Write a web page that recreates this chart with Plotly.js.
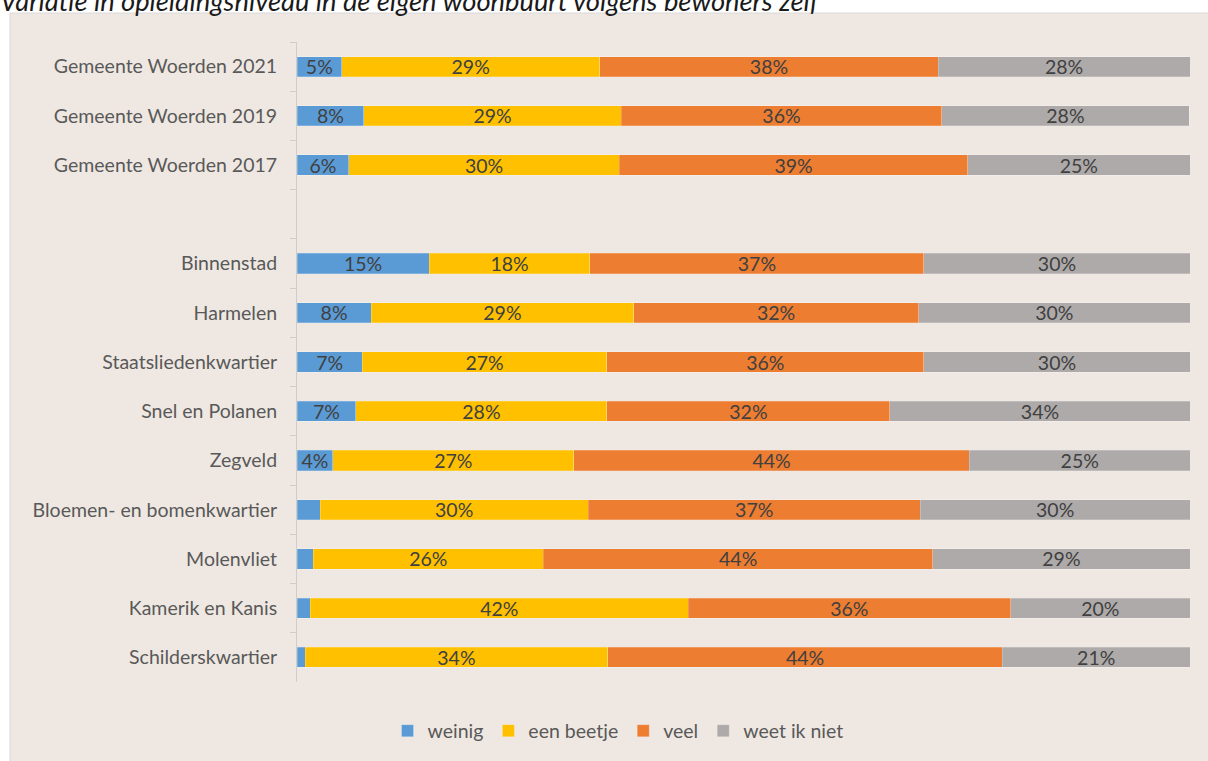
<!DOCTYPE html>
<html><head><meta charset="utf-8">
<script src="https://cdn.plot.ly/plotly-3.0.1.min.js"></script>
<style>html,body{margin:0;padding:0;background:#fff}#chart{width:1208px;height:761px}</style>
</head><body><div id="chart"></div>
<script>
const categories = ["Gemeente Woerden 2021","Gemeente Woerden 2019","Gemeente Woerden 2017"," ",
  "Binnenstad","Harmelen","Staatsliedenkwartier","Snel en Polanen","Zegveld",
  "Bloemen- en bomenkwartier","Molenvliet","Kamerik en Kanis","Schilderskwartier"];
const weinig    = [5.0, 7.5, 5.8, null, 14.8, 8.3, 7.3, 6.6, 4.0, 2.6, 1.8, 1.5, 0.9];
const eenBeetje = [28.9, 28.8, 30.3, null, 18.0, 29.4, 27.4, 28.1, 27.0, 30.0, 25.8, 42.3, 33.9];
const veel      = [37.9, 35.9, 39.0, null, 37.4, 31.9, 35.5, 31.7, 44.3, 37.2, 43.6, 36.1, 44.2];
const weetNiet  = [28.2, 27.7, 24.9, null, 29.8, 30.4, 29.8, 33.6, 24.7, 30.2, 28.8, 20.1, 21.0];
const seriesNames = ["weinig","een beetje","veel","weet ik niet"];
const colors = ["#5B9BD5","#FFC000","#ED7D31","#AEAAAA"];
const titleText = "Variatie in opleidingsniveau in de eigen woonbuurt volgens bewoners zelf";

const FONT = "Lato, 'Open Sans', sans-serif";
const FS = 19.5;
const lbl = v => (v == null || v < 3.5) ? "" : Math.round(v) + "%";
const data = [weinig, eenBeetje, veel, weetNiet].map((vals, i) => ({
  type: "bar", orientation: "h", name: seriesNames[i],
  y: categories, x: vals,
  text: vals.map(lbl), texttemplate: "%{text}",
  textposition: "inside", insidetextanchor: "middle", constraintext: "none",
  textfont: {family: FONT, size: FS, color: "#404040"},
  marker: {color: colors[i], line: {width: 0.6, color: "rgba(255,255,255,0.35)"}},
  hoverinfo: "x+y+name"
}));

const L = 297, R = 1190, T = 42, B = 683, W = 1208, H = 761;
const px2x = p => (p - L) / (R - L);
const px2y = p => (B - p) / (B - T);

const layout = {
  width: W, height: H,
  margin: {l: L, r: W - R, t: T, b: H - B, pad: 0},
  paper_bgcolor: "#ffffff", plot_bgcolor: "rgba(0,0,0,0)",
  barmode: "stack", bargap: 0.59,
  font: {family: FONT, color: "#595959", size: FS},
  showlegend: true,
  legend: {orientation: "h", x: px2x(618), xanchor: "center", y: px2y(731), yanchor: "middle",
    itemwidth: 30,
    font: {family: FONT, size: FS, color: "#595959"}, bgcolor: "rgba(0,0,0,0)", traceorder: "normal"},
  xaxis: {range: [0, 100], visible: false, fixedrange: true},
  yaxis: {type: "category", categoryorder: "array", categoryarray: categories,
    autorange: "reversed", showline: true, linecolor: "#D0CCC8", linewidth: 1,
    ticks: "outside", tickson: "boundaries", ticklen: 6, tickcolor: "#D0CCC8",
    showgrid: false, zeroline: false, ticklabelstandoff: 15,
    tickfont: {family: FONT, size: FS, color: "#595959"}},
  shapes: [{type: "rect", xref: "paper", yref: "paper", layer: "below",
    x0: px2x(10), x1: px2x(1212), y0: px2y(765), y1: px2y(13),
    fillcolor: "#EFE8E2", line: {color: "#D9D9D9", width: 1}}],
  annotations: [{xref: "paper", yref: "paper", x: px2x(-2), xanchor: "left",
    y: px2y(19), yanchor: "bottom", showarrow: false, text: "<i>" + titleText + "</i>",
    font: {family: FONT, size: 27.3, color: "#1a1a1a"}}]
};
Plotly.newPlot("chart", data, layout, {displayModeBar: false, staticPlot: true});
</script></body></html>
